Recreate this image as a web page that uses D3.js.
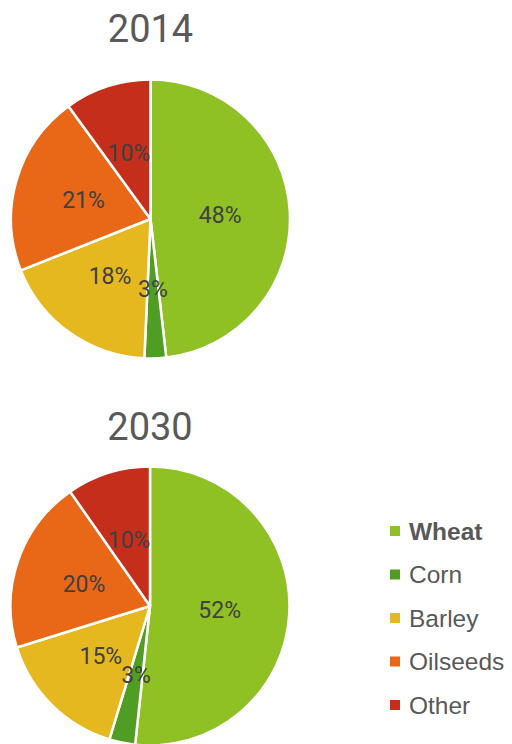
<!DOCTYPE html>
<html>
<head>
<meta charset="utf-8">
<script src="https://cdn.jsdelivr.net/npm/d3@7"></script>
<style>
  html, body { margin: 0; padding: 0; background: #fff; }
  svg { display: block; }
  .title { font-family: Roboto, "Liberation Sans", sans-serif; fill: #595959; }
  .pct { font-family: Roboto, "Liberation Sans", sans-serif; fill: #404040; }
  .legend { font-family: "Liberation Sans", Arial, sans-serif; fill: #595959; }
</style>
</head>
<body>
<div id="chart"></div>
<script>
// crops shown in the two pies, clockwise from 12 o'clock
const categories = ['Wheat', 'Corn', 'Barley', 'Oilseeds', 'Other'];
const colors     = ['#8fc125', '#4f9e23', '#e5b820', '#e86818', '#c52e1a'];
const years      = ['2014', '2030'];
// slice sizes (percent)
const share2014  = [48.2, 2.5, 18.3, 21.0, 10.0];
const share2030  = [51.7, 3.0, 15.5, 20.1, 9.7];
// printed labels
const labels2014 = ['48%', '3%', '18%', '21%', '10%'];
const labels2030 = ['52%', '3%', '15%', '20%', '10%'];

const W = 512, H = 744;
const svg = d3.select('#chart').append('svg').attr('width', W).attr('height', H);
const color = d3.scaleOrdinal(categories, colors);

const R = 139.5;
const pies = [
  { year: years[0], vals: share2014, labs: labels2014, cx: 150.5, cy: 219, ty: 42 },
  { year: years[1], vals: share2030, labs: labels2030, cx: 150,   cy: 606, ty: 440 },
];

const pie = d3.pie().sort(null).value(d => d.v);
const arc = d3.arc().innerRadius(0).outerRadius(R);

pies.forEach(p => {
  svg.append('text').attr('class', 'title')
    .attr('x', p.cx).attr('y', p.ty).attr('text-anchor', 'middle')
    .style('font-size', '38px').text(p.year);

  const rows = categories.map((c, i) => ({ c, v: p.vals[i], lab: p.labs[i] }));
  const g = svg.append('g').attr('transform', `translate(${p.cx},${p.cy})`);
  const arcs = pie(rows);
  g.selectAll('path').data(arcs).join('path')
    .attr('d', arc).attr('fill', d => color(d.data.c))
    .attr('stroke', '#fff').attr('stroke-width', 2.5).attr('stroke-linejoin', 'round');
  g.selectAll('text').data(arcs).join('text').attr('class', 'pct')
    .attr('transform', d => `translate(${arc.centroid(d)})`)
    .attr('text-anchor', 'middle').attr('dy', '0.36em')
    .style('font-size', '23px').text(d => d.data.lab);
});

// legend
const lg = svg.append('g').attr('transform', 'translate(390,531)');
const rowH = 43.5;
const item = lg.selectAll('g').data(categories).join('g')
  .attr('transform', (d, i) => `translate(0,${i * rowH})`);
item.append('rect').attr('x', 0).attr('y', -5).attr('width', 10).attr('height', 10)
  .attr('fill', d => color(d));
item.append('text').attr('class', 'legend')
  .attr('x', 19).attr('y', 0).attr('dy', '0.35em')
  .style('font-size', '24.5px').style('font-weight', (d, i) => i === 0 ? 'bold' : 'normal')
  .text(d => d);
</script>
</body>
</html>
